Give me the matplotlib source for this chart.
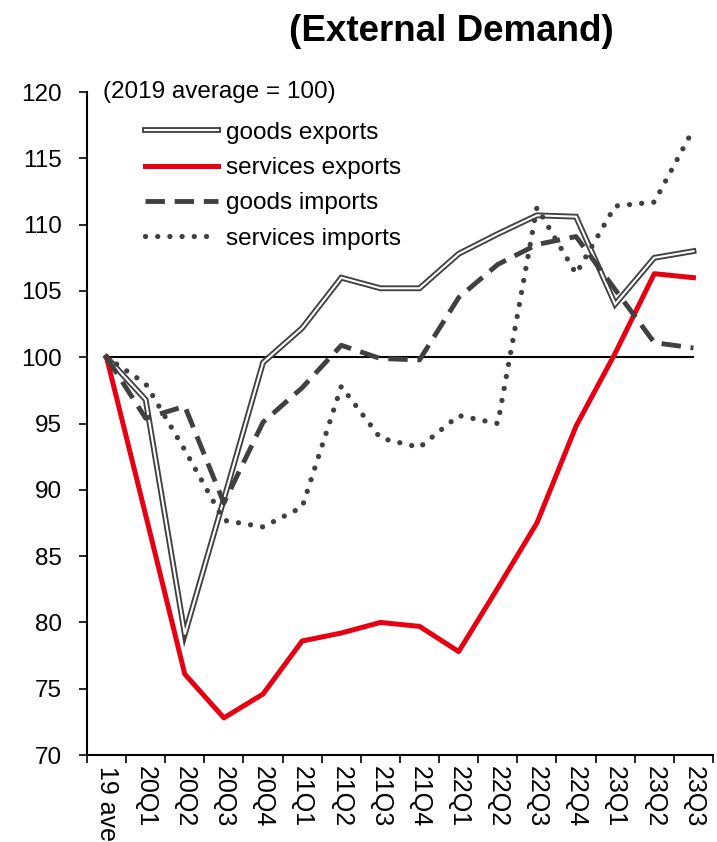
"""
External demand indices: goods and services exports/imports (2019 average = 100).
"""

import matplotlib.pyplot as plt
import matplotlib.patheffects as pe

plt.rcParams['font.family'] = ['Liberation Sans', 'DejaVu Sans']

# quarters
quarters = ['19 ave', '20Q1', '20Q2', '20Q3', '20Q4', '21Q1', '21Q2', '21Q3',
            '21Q4', '22Q1', '22Q2', '22Q3', '22Q4', '23Q1', '23Q2', '23Q3']

# index values (2019 average = 100)
goods_exports = [100, 96.8, 79.1, 89.3, 99.6, 102.2, 106.0, 105.2,
                 105.2, 107.8, 109.3, 110.7, 110.6, 104.0, 107.5, 108.0]
services_exports = [100, 88.1, 76.1, 72.8, 74.6, 78.6, 79.2, 80.0,
                    79.7, 77.8, 82.6, 87.5, 94.8, 100.3, 106.3, 106.0]
goods_imports = [100, 95.4, 96.3, 89.0, 95.1, 97.7, 100.9, 99.9,
                 99.8, 104.5, 107.0, 108.5, 109.1, 105.1, 101.1, 100.7]
services_imports = [100, 98.0, 93.0, 87.7, 87.2, 88.7, 97.8, 93.9,
                    93.2, 95.6, 95.0, 111.3, 106.3, 111.4, 111.7, 117.2]
base = [100] * len(quarters)

x = list(range(len(quarters)))
dark = '#404040'
red = '#E60012'

fig = plt.figure(figsize=(7.17, 8.42), dpi=100)
ax = fig.add_axes([0.1213, 0.1033, 0.8731, 0.7874])

ax.plot(x, base, color='black', lw=1.5, zorder=2)
ax.plot(x, goods_exports, color='white', lw=1.5, zorder=3,
        solid_joinstyle='miter', label='goods exports',
        path_effects=[pe.Stroke(linewidth=4.2, foreground=dark), pe.Normal()])
ax.plot(x, services_exports, color=red, lw=3.6, zorder=4,
        label='services exports')
ax.plot(x, goods_imports, color=dark, lw=3.5, zorder=5,
        linestyle=(0, (4, 2)), label='goods imports')
ax.plot(x, services_imports, color=dark, lw=3.8, zorder=6,
        linestyle=(0, (0.01, 2.3)), dash_capstyle='round',
        label='services imports')

ax.set_xlim(-0.5, len(quarters) - 0.5)
ax.set_ylim(70, 120)
ax.set_yticks(range(70, 121, 5))

# tick marks between categories, labels at the centres
ax.set_xticks([i - 0.5 for i in range(len(quarters))] + [len(quarters) - 0.5])
ax.set_xticklabels([])
ax.set_xticks(x, minor=True)
ax.set_xticklabels(quarters, minor=True, rotation=-90, fontsize=18,
                   va='top', ha='center')
ax.tick_params(axis='x', which='minor', length=0, pad=8)
ax.tick_params(axis='x', which='major', length=6, width=1.2, direction='out')
ax.tick_params(axis='y', length=6, width=1.2, direction='out',
               labelsize=17.5, pad=12)

for s in ['top', 'right']:
    ax.spines[s].set_visible(False)
for s in ['left', 'bottom']:
    ax.spines[s].set_linewidth(1.5)

ax.text(0.026, 1.0, '(2019 average = 100)', transform=ax.transAxes,
        fontsize=17.5, ha='left', va='center')

ax.legend(loc='upper left', bbox_to_anchor=(0.077, 0.97), frameon=False,
          fontsize=17.5, handlelength=3.0, handletextpad=0.35,
          labelspacing=0.55, borderaxespad=0)

fig.text(0.63, 0.962, '(External Demand)', fontsize=26.5, fontweight='bold',
         ha='center', va='center')

fig.savefig('out.png', dpi=100)
